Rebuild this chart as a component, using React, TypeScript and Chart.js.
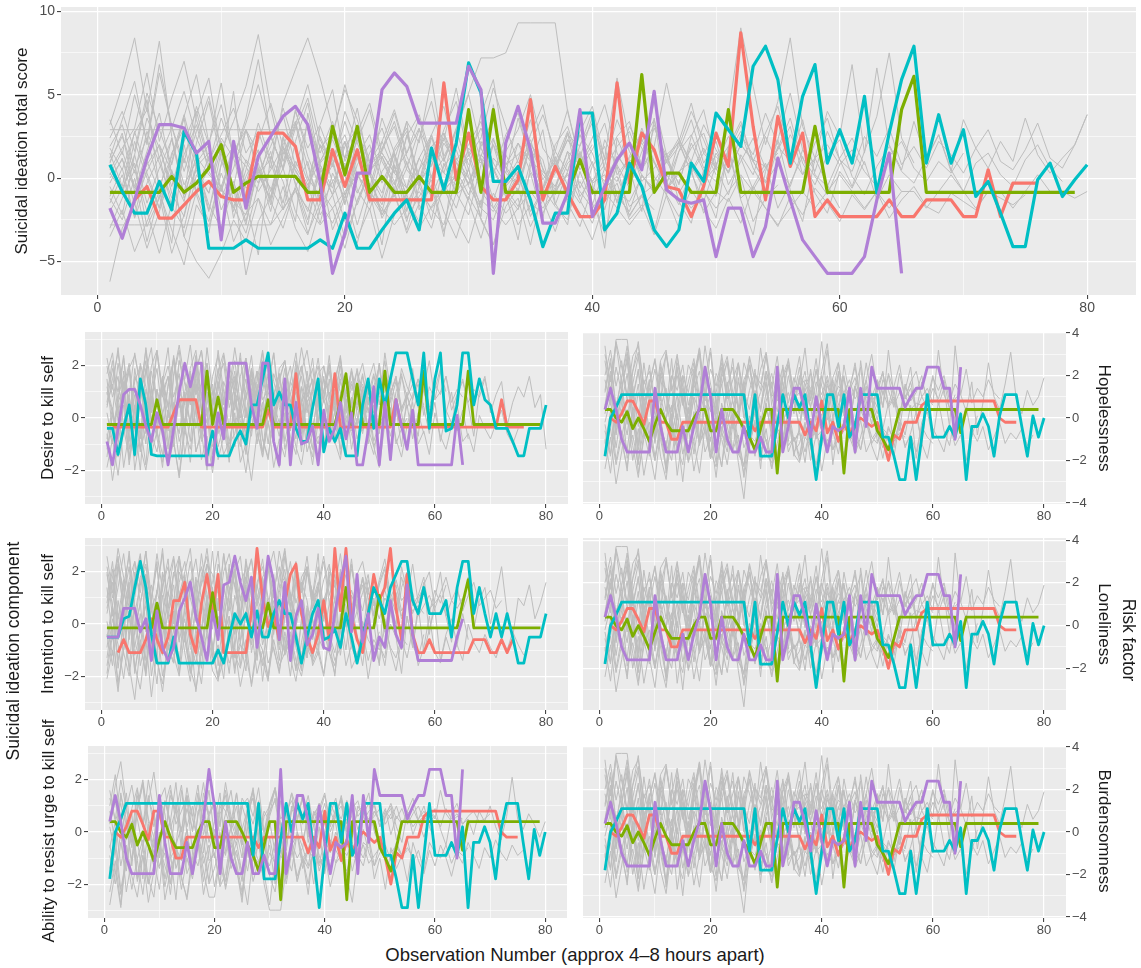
import React, { useEffect, useRef } from 'react';
import { Chart, registerables } from 'chart.js';
Chart.register(...registerables);

// ---------------- DATA (observation index = position + 1; "x" = missing) ----------------
const X_TICKS = [0, 10, 20, 30, 40, 50, 60, 70, 80];
const X_MAJOR = [0, 20, 40, 60, 80];

const TOTAL_Y_TICKS = [-5, -2.5, 0, 2.5, 5, 7.5, 10];
const TOTAL_Y_MAJOR = [-5, 0, 5, 10];
const COMP_Y_TICKS = [-3, -2, -1, 0, 1, 2, 3];
const COMP_Y_MAJOR = [-2, 0, 2];
const RISK_Y_TICKS = [-4, -3, -2, -1, 0, 1, 2, 3, 4];
const RISK_Y_MAJOR = [-4, -2, 0, 2, 4];

// Top panel: suicidal ideation total score
const TOTAL_RED =
  'x x -1.3 -0.5 -2.4 -2.4 -1.6 -0.8 -0.2 -1.1 ' +
  '-1.3 -1.3 2.7 2.7 2.7 1.9 -1.3 -1.3 1.7 -0.5 ' +
  '1.7 -1.3 -1.3 -1.3 -1.3 -1.3 -1.3 5.7 -0.1 2.7 ' +
  '-0.5 -1.3 -1.3 -0.1 4.7 -1.3 0.7 -0.9 -2.3 -2.3 ' +
  '-1.3 5.7 -0.3 2.7 1.7 -0.5 -0.7 -2.3 -0.5 2.7 ' +
  '0.7 8.7 3.1 -1.3 3.7 0.7 2.7 -2.3 -1.3 -2.3 ' +
  '-2.3 -2.3 -2.3 -1.3 -2.3 -2.3 -1.3 -1.3 -1.3 -2.3 ' +
  '-2.3 0.5 -2.3 -0.3 -0.3 -0.3';
const TOTAL_GREEN =
  '-0.85 -0.85 -0.85 -0.85 -0.85 0.1 -0.85 -0.3 0.6 2.0 ' +
  '-0.85 -0.3 0.1 0.1 0.1 0.1 -0.85 -0.85 3.1 0.2 ' +
  '3.1 -0.85 0.1 -0.85 -0.85 0.1 -0.85 -0.85 -0.85 4.1 ' +
  '-0.85 4.1 -0.85 -0.85 -0.85 -0.85 -0.85 -0.85 1.1 -0.85 ' +
  '-0.85 -0.85 -0.85 6.2 -0.85 0.3 0.3 -0.85 -0.85 -0.85 ' +
  '4.1 -0.85 -0.85 -0.85 -0.85 -0.85 -0.85 3.1 -0.85 -0.85 ' +
  '-0.85 -0.85 -0.85 -0.85 4.1 6.1 -0.85 -0.85 -0.85 -0.85 ' +
  '-0.85 -0.85 -0.85 -0.85 -0.85 -0.85 -0.85 -0.85 -0.85';
const TOTAL_CYAN =
  '0.8 -0.8 -2.1 -2.1 -0.2 -1.9 2.8 1.5 -4.2 -4.2 ' +
  '-4.2 -3.7 -4.2 -4.2 -4.2 -4.2 -4.2 -3.7 -4.2 -2.1 ' +
  '-4.2 -4.2 -3.1 -2.1 -1.3 -3.1 1.8 -0.7 2.1 6.9 ' +
  '5.1 -0.2 -0.2 0.7 -1.3 -4.1 -2.1 -2.1 3.9 3.9 ' +
  '-3.1 -2.1 0.9 -0.5 -3.1 -4.1 -3.1 0.9 -0.2 3.9 ' +
  '2.9 1.9 6.7 7.9 5.9 0.9 4.9 6.8 0.9 2.9 ' +
  '0.9 4.9 -0.9 2.7 5.9 7.9 0.9 3.8 0.9 2.9 ' +
  '-1.1 -0.2 -2.1 -4.1 -4.1 -0.1 0.9 -1.1 -0.1 0.8';
const TOTAL_PURPLE =
  '-1.8 -3.6 -1.3 1.2 3.2 3.2 3.0 1.5 2.2 -3.7 ' +
  '2.2 -1.8 1.3 2.5 3.7 4.3 3.2 -0.2 -5.7 -3.3 ' +
  '0.3 0.3 5.3 6.3 5.5 3.3 3.3 3.3 3.3 6.7 ' +
  '5.3 -5.7 2.1 4.3 1.7 -2.7 -2.7 -0.9 4.1 -2.3 ' +
  '-0.5 1.1 2.1 0.5 5.2 -0.7 -1.3 -1.5 -1.3 -4.7 ' +
  '-1.8 -1.8 -4.7 -2.9 1.2 -1.3 -3.7 -4.7 -5.7 -5.7 ' +
  '-5.7 -4.7 -1.3 1.5 -5.7';
const TOTAL_GREY = [
  '-2.8 -2.8 -2.8 -2.8 -2.8 -2.8 -2.8 -2.8 -2.8 -2.8 -2.8 -2.8 -2.8 -2.8 -1.8 -0.8 -1.8 -2.8 -1.8 -0.8 0.2 -0.8 -1.8 -2.8 -1.8 -0.8 -1.8 -0.8 0.2 1.2 -0.8 -1.8 -2.8 -1.8 -0.8 -1.8 -0.8 0.2 -0.8 -1.8 -0.8 -1.8 -2.8 -1.8 -0.8 0.2 -0.8 -1.8 -0.8 -1.8 -0.8 0.2 -0.8 -1.8 -2.8 -1.8 -0.8 -1.8 -0.8 0.2 -0.8 -1.8 -0.8 -1.8 -0.8 -0.8 -1.8 -0.8 0.2 -0.8 -1.8 -0.8 -0.8 -1.8 -0.8 0.2 -0.8 -0.8 -1.2 -0.8',
  '2.9 2.9 2.9 2.9 2.9 2.9 2.9 2.9 2.9 2.9 2.9 2.9 2.9 2.9 2.9 2.9 2.9 1.5 3.4 0.6 2.2 4.1 1.0 -0.4 2.5 3.8 1.2 0.3 2.9 5.0 1.8 0.2 2.6 3.9 1.1 -0.6 2.0 3.1 0.8 2.4 4.4 1.5 0.1 2.2 3.5 0.9 1.9 4.0 2.3 0.5 1.6 3.2 1.0 2.7 4.3 1.4 0.2 2.1 3.6 1.1 0.4 2.5 1.3 3.0 0.8 1.9 0.6 2.2 1.4 0.3 1.8 2.9 1.0 0.5 1.7 3.3 1.2 0.6 2.0 3.8',
  '3.2 5.5 8.4 4.0 8.2 2.5 -1.0 3.8 6.0 1.5 -2.0 0.5 3.3 1.0 -1.5 2.2 4.5 0.8 -0.6 1.9 3.0 0.2 -1.2 1.6 2.8 -0.3 1.0 2.4 0.5 -1.0 1.3 3.5 0.6 -0.8 2.0 1.1 -1.6 0.4 2.6 1.5 -0.5 0.9 3.1 1.8 -0.2 1.0 2.2 0.3 -1.4 0.8 2.5 1.2 -0.7 0.6 1.8 3.6 0.9 -0.4 1.4 2.3 0.1 -1.0 0.7 1.9 0.4 -0.3 1.2 2.6 0.5 -0.8 0.9 1.5 0.2 -0.5 1.1 2.0 0.6 -0.2',
  '-6.2 -3.0 -1.5 -4.2 -2.0 0.5 -3.5 -5.0 -6.0 -4.5 -2.5 -3.8 -1.2 -2.8 -0.5 -3.0 -4.4 -1.8 -0.2 -2.6 -3.9 -1.0 -2.2 -0.8 -3.3 -1.5 0.2 -2.0 -3.6 -1.1 -2.4 -4.0 -1.7 -0.6 -2.9 -1.3 -3.2 -0.9 -2.1 -3.7 -1.4 -0.3 -2.5 -1.6 -3.4 -1.0 -2.3 -0.7 -1.9 -3.0 -1.2 -2.7 -0.5 -1.8 -2.9 -1.1 -2.2 -0.6 -1.5 -2.6 -1.0 -1.9 -0.8 -2.4 -1.3 -0.5 -1.7 -2.1 -0.9 -1.4 -1.9 -0.8 -1.2 -1.6 -1.0',
  '0.5 1.8 3.0 6.3 2.2 4.8 7.0 3.5 1.0 2.6 4.2 1.5 2.8 0.6 4.5 6.5 8.4 6.0 3.0 1.2 2.5 0.4 1.6 3.4 0.8 -0.5 1.9 2.7 0.3 1.4 3.0 0.9 -0.4 2.1 1.0 -1.2 0.6 2.3 1.3 -0.2 0.8 3.5 1.6 0.2 -0.9 1.1 2.4 0.7 -0.6 1.5 0.3 2.0 1.0 -0.3 0.9 2.6 1.2 0.1 -1.0 0.8 1.7 0.4 -0.5 1.3 2.2 0.6 -0.2 1.0 0.3 1.5',
  '1.2 3.5 5.8 2.0 6.3 3.1 0.4 2.8 4.9 1.6 3.4 5.5 8.6 4.2 1.0 3.2 5.6 2.3 0.7 4.0 2.1 0.3 3.6 1.5 -0.6 2.4 4.6 1.1 2.9 0.5 3.8 5.9 1.4 0.0 2.6 4.4 0.9 -0.8 2.0 3.3 1.2 6.0 2.2 0.6 3.0 1.3 -0.4 2.5 4.1 0.8 1.9 3.4 1.0 -0.2 2.3 5.1 1.7 0.4 2.8 1.1 -0.5 1.6 3.7 7.5 2.4 0.9',
  '-1.5 0.2 -2.3 1.0 -0.8 2.4 -1.2 0.5 -2.0 1.6 -0.5 -2.8 0.9 -1.6 1.8 -0.3 -2.5 0.6 -1.0 2.2 -0.7 -1.9 0.4 1.5 -1.3 -2.6 0.1 1.2 -0.9 -2.2 0.8 2.0 -0.6 -1.7 0.3 -2.4 1.1 -0.4 -1.5 0.7 1.9 -1.1 -2.0 0.2 -0.8 1.4 -1.4 -2.7 0.5 -0.2 1.6 -1.2 -0.5 0.9 -1.8 -0.3 1.3 -0.9 -2.1 0.4 -0.6 1.0 -1.3 0.2 -0.8',
  '1.0 2.5 0.3 3.6 1.8 -0.5 2.2 4.0 1.1 -1.2 0.6 2.9 1.5 -0.8 2.0 3.4 0.7 -1.5 1.3 2.6 0.2 -0.9 1.8 3.1 0.5 -0.4 2.4 1.0 3.0 5.1 7.2 7.2 7.5 9.3 9.3 9.3 9.3 4.0 1.0 -1.0 2.3 0.8 -0.6 1.6 3.2 1.0 -0.3 2.1 0.4 -1.1 1.5 2.8 0.6 -0.7 1.9 1.0 3.5 0.2 -0.5 1.2 2.4 0.8',
  '-0.5 -2.2 1.4 4.7 -0.6 -3.9 2.0 -1.0 -3.3 0.8 5.2 -1.4 -4.6 1.3 -0.2 -2.6 3.9 0.5 -3.1 -1.2 2.6 -0.8 -4.0 1.1 3.4 -1.9 -0.4 -3.5 2.2 0.1 -2.3 4.4 -0.9 -3.7 0.7 2.9 -1.5 -2.8 1.6 -0.3 -4.2 2.4 0.6 -2.0 3.6 -1.1 -3.0 0.9 -0.6 -2.4 1.9 -1.3 -3.4 0.4 2.3 -0.7 -2.6 1.2 -0.4 -1.8',
  '0.8 -1.0 2.2 0.0 -1.8 1.5 3.0 0.6 -0.9 2.4 1.2 -1.4 0.3 1.9 3.8 0.7 -0.6 2.0 0.9 -1.6 1.3 2.6 0.1 -1.1 0.6 2.9 1.4 -0.4 0.2 3.4 1.1 -1.3 0.8 2.1 0.4 -0.8 1.6 4.1 0.9 -0.2 1.2 -1.5 0.5 2.3 1.0 -0.7 0.3 1.8 2.7 0.6 -1.0 1.4 0.2 2.5 0.8 -0.5 1.7 0.9',
  '-3.0 -1.2 0.5 -2.0 -4.5 -1.5 1.2 -0.8 -2.6 0.3 -1.7 -3.3 -0.4 1.6 -1.9 -0.6 -2.8 0.8 -1.0 -3.6 -1.4 0.4 -2.2 -0.9 1.0 -1.6 -3.0 -0.3 -1.8 0.6 -2.5 -4.0 -1.1 0.2 -2.0 -0.7 1.3 -1.5 -2.9 -0.5 -1.3 0.7 -2.3 -1.0 -3.2 -0.2 -1.6 0.5 -2.1 -0.8 -1.4 0.1 -2.6 -1.2 -0.4',
  '1.8 0.5 2.7 4.1 1.2 3.0 5.2 2.4 0.8 3.6 1.5 -0.3 2.2 4.5 1.9 0.6 3.3 1.0 2.5 5.6 2.8 0.9 1.7 3.9 1.3 -0.2 2.6 4.3 1.1 2.0 3.4 0.4 1.6 2.9 5.0 1.8 0.7 2.3 1.2 3.7 0.5 1.9 2.8 0.8 4.6 1.4 2.1 0.3 1.5 2.6',
  '-1.2 -2.5 0.0 -3.8 -1.0 -4.5 -2.2 0.8 -1.6 -3.0 -0.4 -5.8 -2.6 -1.1 0.6 -2.0 -3.4 -0.7 -1.8 -4.2 -1.3 0.3 -2.4 -1.0 -3.1 -0.5 -1.9 -2.8 0.1 -1.4 -3.6 -0.9 -2.1 -1.2 -4.0 -0.6 -1.7 -2.5 0.4 -1.5 -3.3 -0.8 -2.2 -1.1 -1.9',
  '0.2 1.6 -0.5 2.8 0.9 -1.2 1.4 3.2 0.4 -0.8 2.1 1.0 -0.3 2.5 0.6 4.1 1.3 -0.6 0.8 2.2 -0.1 1.5 3.0 0.7 -1.0 1.2 2.6 0.3 -0.4 1.8 0.9 2.4 -0.2 1.1 3.5 0.5 -0.7 1.6 0.8 2.0',
  '0.0 1.1 -0.6 0.8 2.0 0.4 -1.0 1.3 0.2 -0.5 1.6 0.7 -0.8 0.5 1.9 0.1 -0.4 1.0 2.3 0.6 -0.9 0.8 1.5 0.3 -0.6 1.2 0.0 2.1 0.9 -0.3 1.4 0.5 -1.1 0.7 1.8 0.2 -0.5 1.1 2.6 0.8 -0.2 1.3 0.4 3.0 1.0 -0.4 2.2 4.5 1.5 0.6 3.8 9.0 5.5 2.0 4.6 8.4 3.1 1.2 4.0 2.5 6.8 1.5 6.6 2.0 0.5 3.4 1.1 2.6 0.4 3.5 1.8 0.6 2.2 1.0 3.6 1.4 0.3 1.2 2.0 3.8',
  '1.5 -0.5 2.8 0.3 -1.8 1.0 3.6 -0.9 0.6 2.2 -2.4 0.1 1.7 -1.2 2.5 0.4 -0.7 3.1 1.1 -1.5 0.8 2.0 -0.3 1.4 -2.0 0.5 2.6 -0.8 1.2 0.0 -1.6 2.3 0.7 -0.4 1.9 -1.1 0.3 2.7 -0.6 1.0 -1.9 0.9 2.1 -0.2 0.6 1.5 -0.9 0.4 1.8 0.2',
  '-2.0 -0.6 0.9 -2.9 -1.2 0.4 -3.5 -0.8 1.3 -1.9 -0.2 -2.6 0.6 -1.4 -3.0 -0.5 1.0 -2.2 -1.0 0.2 -2.8 -0.3 -1.6 0.8 -2.4 -1.1 -0.1 -3.2 -0.9 0.5 -1.8 -2.5 -0.4 0.7 -1.5 -2.1 -0.7 0.3 -1.3 -2.7 -0.6 0.1 -1.7 -1.0 -0.4',
  '2.4 4.0 1.6 5.1 2.9 0.8 3.7 6.2 2.1 4.4 1.2 3.3 5.6 2.6 0.5 3.0 4.8 1.8 2.7 5.3 3.5 1.0 2.2 4.1 1.5 3.6 0.7 2.9 4.6 1.3 2.4 5.4 3.1 0.9 2.0 3.8 1.6 0.4 2.8 4.3 1.1 2.5 3.4 0.6 1.9 5.7 2.3 1.0 3.2 1.7 0.3 2.6 1.4 3.9 2.0',
  '-0.3 1.2 -1.6 0.4 2.0 -0.9 -2.3 0.7 1.5 -0.6 -1.8 1.1 0.2 -1.2 2.4 -0.4 -2.0 0.9 1.8 -1.0 0.3 -1.5 1.3 -0.2 -2.6 0.5 1.7 -0.7 0.1 -1.3 2.2 0.6 -0.9 -1.9 1.0 0.4 -0.5 1.6 -1.1 0.0',
  '0.9 2.7 -0.8 1.6 3.9 0.2 -1.4 2.1 4.6 1.0 -0.5 2.9 0.6 -2.0 1.4 3.3 0.0 -1.1 2.5 1.2 4.2 0.4 -0.9 1.8 3.0 -0.3 0.8 2.3 5.4 1.5 -0.6 2.0 0.3 3.6 1.1 -1.3 0.7 2.6 1.9 4.0 0.5 -0.2 1.3 2.8 0.1 -1.0 1.6 3.5 0.9 2.2 -0.4 1.0 2.4 0.6 1.7 3.1 0.2 1.2 2.0 0.8',
  '-3.5 -1.9 -4.4 -2.6 -0.8 -3.1 -5.2 -1.6 -2.9 -0.4 -3.8 -2.1 -1.2 -4.0 -2.4 -0.6 -3.3 -1.5 -2.7 -0.9 -3.6 -1.8 -4.8 -2.2 -1.0 -3.0 -1.7 -0.5 -2.5 -3.9 -1.3 -2.0 -0.7 -2.8 -1.6',
  '0.3 -0.8 1.4 -1.5 0.6 2.3 -0.4 1.0 -1.9 0.8 1.9 -0.6 0.2 -1.3 1.6 0.5 -0.9 2.0 -0.2 0.9 -1.6 0.4 1.3 -0.7 2.6 0.1 -1.1 0.7 1.7 -0.5 -1.8 1.2 0.3 -0.4 2.1 0.6 -1.0 0.9 1.5 -0.3 0.2 -1.4 1.1 0.5 1.8 -0.6 0.4 1.0 -0.2 0.7',
  '3.5 1.4 5.0 2.2 6.8 3.1 0.9 4.3 2.0 5.7 1.2 3.6 7.1 2.5 0.6 4.0 1.8 3.2 5.3 1.0 2.7 4.5 1.5 0.3 3.4 2.1 6.0 1.3 2.8 0.8',
  '-1.1 0.6 -2.4 -0.3 1.3 -1.7 -3.0 0.2 -0.9 1.8 -1.4 -2.2 0.5 -0.6 -1.9 1.0 -0.4 -2.7 0.3 -1.2 1.5 -0.8 -2.0 0.7 -1.5 -0.1 -2.5 0.9 -1.0 -0.3 1.2 -1.8 -0.5 0.4 -2.3 -0.7 0.8 -1.3 -0.2 -1.6 0.6 -0.9 -1.4 0.1 -0.6',
  '1.9 3.2 0.6 2.4 -0.5 1.3 3.8 0.9 2.0 -0.8 1.6 2.9 0.3 1.1 4.2 1.8 -0.2 2.5 0.7 3.4 1.2 -0.6 2.2 0.4 1.5 3.0 0.0 2.7 1.0 -0.4 1.9 3.6 0.8 1.4 2.3 -0.1 1.0 2.8 0.5 1.7 3.3 0.2 1.2 2.1 0.9 -0.3 1.6 2.6 0.6 1.3 0.4 2.0 1.1 0.7 1.5',
];

// Desire to kill self
const DESIRE_RED =
  'x -0.35 -0.35 -0.35 -0.35 -0.35 -0.35 -0.35 -0.35 -0.35 ' +
  '-0.35 -0.35 0.2 0.7 0.7 0.7 0.7 -0.35 -0.35 -0.35 ' +
  '-0.35 -0.35 -0.35 -0.35 -0.35 -0.35 -0.35 -0.35 -0.35 0.3 ' +
  '-0.35 -0.35 -0.35 -0.35 1.7 -0.35 -0.35 -0.35 -0.35 -0.35 ' +
  '-0.35 1.7 -0.35 -0.35 -0.35 -0.35 -0.35 -0.35 -0.35 -0.35 ' +
  '-0.35 -0.35 0.7 -0.35 -0.35 -0.35 -0.35 -0.35 -0.35 -0.35 ' +
  '-0.35 -0.35 -0.35 -0.35 -0.35 -0.35 -0.35 -0.35 -0.35 -0.35 ' +
  '-0.35 0.7 -0.35 -0.35 -0.35 -0.35';
const DESIRE_GREEN =
  '-0.25 -0.25 -0.25 -0.25 -0.25 -0.25 -0.25 -0.25 -0.25 0.7 ' +
  '-0.25 -0.25 -0.25 -0.25 -0.25 -0.25 -0.25 -0.25 1.8 -0.25 ' +
  '0.8 -0.25 -0.25 -0.25 -0.25 -0.25 -0.25 -0.25 -0.25 0.7 ' +
  '-0.25 -0.25 -0.25 -0.25 -0.25 -0.25 -0.25 -0.25 -0.25 -0.25 ' +
  '-0.25 -0.25 0.6 1.7 -0.25 1.3 -0.25 -0.25 -0.25 -0.25 ' +
  '1.8 -0.25 -0.25 -0.25 -0.25 -0.25 -0.25 1.8 -0.25 -0.25 ' +
  '-0.25 -0.25 -0.25 -0.25 -0.25 1.8 -0.25 -0.25 -0.25 -0.25 ' +
  '-0.25 -0.25 -0.25 -0.25 -0.25 -0.25 -0.25 -0.25 -0.25';
const DESIRE_CYAN =
  '-0.4 -0.4 -1.4 -0.4 0.5 -1.4 1.5 0.5 -1.4 -1.45 ' +
  '-1.45 -1.45 -1.45 -1.45 -1.45 -1.45 -1.45 -1.45 -1.45 -0.5 ' +
  '-1.45 -1.45 -1.45 -0.9 -0.5 -1.0 0.5 0.5 1.5 2.5 ' +
  '0.5 1.0 0.5 0.5 -0.4 -0.9 -0.9 0.4 1.5 -1.3 ' +
  '-0.4 -0.9 -0.4 -1.45 -1.45 -1.45 0.5 1.5 -0.4 1.5 ' +
  '0.5 1.5 2.5 2.5 2.5 1.5 0.5 2.5 -0.4 1.5 ' +
  '2.5 -0.5 -0.4 0.5 2.5 2.5 0.5 1.5 0.7 0.5 ' +
  '-0.4 -0.4 -0.4 -0.9 -1.45 -1.45 -0.4 -0.4 -0.4 0.5';
const DESIRE_PURPLE =
  '-0.9 -1.8 -0.4 0.9 1.1 1.1 0.5 -0.3 -0.9 0.2 ' +
  '-0.5 -1.8 -0.4 1.0 2.1 1.2 2.1 2.1 -1.8 -1.8 ' +
  '0.2 -0.8 2.1 2.1 2.1 2.1 0.5 -0.4 2.1 2.1 ' +
  '-0.9 -1.8 1.5 -1.8 0.6 -1.0 -0.9 -0.3 -1.8 0.3 ' +
  '-0.9 -0.4 0.6 -0.8 0.2 -1.8 -1.8 -0.5 1.2 -1.8 ' +
  '0.6 -1.6 0.7 -0.3 -1.2 0.3 -1.8 -1.8 -1.8 -1.8 ' +
  '-1.8 -1.8 -1.8 0.1 -1.8';
const DESIRE_GREY = [
  '1.2 0.3 -0.8 1.8 0.6 -1.5 0.9 2.2 -0.4 1.1 0.2 -1.2 1.6 2.6 0.5 -0.9 1.3 0.4 2.7 1.0 -0.6 0.8 1.9 -0.3 0.6 2.3 1.1 -1.0 0.4 1.7 0.2 -0.7 1.2 2.0 0.5 -1.3 0.9 1.5 -0.2 0.7 2.4 0.3 -0.8 1.0 1.8 0.1 -0.5 1.4 0.6 2.1 -0.4 0.9 1.6 0.2 -1.1 0.8 1.3 0.4 -0.6 1.1 1.9 0.3 -0.2 0.8 1.5 0.5 -0.7 1.0 1.6 0.2 0.9 1.4 -0.3 0.6 1.2 0.8 1.6 0.4 0.9 -1.2',
  '-0.6 -2.4 -1.0 0.5 -1.8 -0.2 -2.0 0.8 -1.4 -0.5 -1.9 0.3 -0.9 -2.2 -0.1 1.0 -1.3 -0.6 -2.0 0.4 -1.1 -0.3 -1.7 0.9 -0.8 -2.1 -0.4 0.6 -1.5 -0.2 -1.0 -1.9 0.2 -0.7 -1.4 0.7 -0.5 -1.8 -0.1 -1.2 0.5 -0.9 -1.6 0.1 -0.6 -1.3 0.8 -0.4 -1.1 -1.9 -0.2 0.4 -0.8 -1.5 -0.3 0.6 -1.0 -0.5 -1.4 0.2 -0.7 -1.2 -0.3 0.5 -0.9 -0.6 -1.3 0.1 -0.4 -0.8 -0.2 0.3 -0.6 -1.0 -0.4',
  '0.4 1.5 2.5 0.9 1.8 -0.3 2.1 1.2 0.2 2.6 1.0 -0.5 1.7 2.8 1.4 0.6 2.2 0.8 -0.2 1.6 2.4 0.5 1.1 2.7 1.3 0.0 1.9 1.0 2.5 0.7 -0.4 1.5 2.2 0.9 0.3 1.8 2.6 1.2 0.4 2.0 0.8 1.5 2.3 0.6 -0.1 1.4 2.1 0.9 1.7 0.5 2.5 1.1 0.2 1.6 0.8 1.9 0.4 1.2 2.2 0.7 1.0 1.6 0.3 0.9 1.4 0.6 1.1 0.8 1.5 0.5',
  '-1.5 0.2 -0.6 1.3 -1.2 0.5 -0.3 -1.8 0.8 -0.5 1.6 -1.0 0.1 -1.6 1.0 -0.2 2.0 -0.8 0.4 -1.4 0.9 -0.4 1.4 -1.1 0.3 -0.7 1.8 0.0 -1.3 0.6 -0.5 1.2 -0.9 0.2 2.2 -0.6 0.7 -1.2 0.4 -0.1 1.5 -0.8 0.3 -1.5 0.8 -0.3 1.1 -1.0 0.5 -0.6 1.7 -0.2 0.4 -1.1 0.9 0.1 -0.7 1.3 -0.4 0.6 -0.9 0.2 1.0 -0.5 0.3 -0.8',
  '2.0 0.8 1.6 -0.4 0.9 2.5 1.2 0.1 1.8 0.6 -0.7 1.3 2.2 0.4 1.0 -0.3 1.7 2.6 0.7 -0.1 1.4 0.5 2.0 1.1 -0.5 0.8 1.9 0.3 1.5 2.4 0.6 -0.2 1.2 0.9 1.8 0.2 -0.6 1.1 2.3 0.7 0.0 1.6 1.0 -0.4 0.5 1.9 0.8 1.3 0.2 2.1 0.6 -0.3 1.0 1.7 0.4 0.9 1.5 0.1 1.2 0.7 1.8 1.0',
  '-0.2 -1.0 0.6 -1.9 -0.5 0.9 -1.2 -0.4 1.2 -0.8 -1.7 0.3 -0.6 0.8 -1.4 -0.1 1.5 -0.9 -0.3 0.5 -1.6 -0.7 1.0 -0.2 -1.1 0.4 -0.5 1.3 -0.8 -1.5 0.2 -0.4 0.9 -1.0 -0.2 0.6 -1.3 -0.6 1.1 -0.3 -0.9 0.3 -1.2 0.7 -0.5 -0.1 1.2 -0.7 -1.4 0.1 -0.3 0.8 -1.0 -0.4 0.5 -0.8 0.2 -0.6',
  '0.9 2.2 0.1 1.4 -0.9 1.9 0.5 2.7 1.1 -0.2 1.6 0.4 2.4 0.8 -0.6 1.3 2.0 0.2 1.7 0.6 2.6 1.0 -0.4 1.5 0.3 2.1 0.9 1.8 -0.1 1.2 2.5 0.7 1.4 0.0 1.9 0.6 1.1 2.3 0.4 1.6 -0.3 1.0 2.0 0.5 1.3 0.8 1.7 0.2 1.2 0.9 2.2 0.6 1.4 0.3 1.0',
  '-0.8 0.4 -1.5 -0.2 0.9 -2.0 -0.6 0.3 -1.2 1.1 -0.4 -1.7 0.6 -0.9 -0.1 1.4 -1.3 -0.5 0.2 -1.9 -0.3 0.8 -1.0 -0.6 0.5 -1.4 0.1 1.0 -0.8 -1.6 0.3 -0.4 0.7 -1.1 -0.2 1.2 -0.7 -1.5 0.4 -0.3 0.9 -1.0 -0.5 0.6 -1.2 0.0 -0.6 0.8 -0.9 -0.2',
  '1.5 -0.5 0.7 2.3 0.1 1.2 -0.8 1.9 0.6 -0.2 1.4 2.7 0.3 -0.6 1.0 1.8 -0.4 0.8 2.1 0.4 1.3 -0.1 1.7 0.9 2.5 0.2 -0.7 1.1 1.6 0.5 -0.3 1.4 2.2 0.6 1.0 -0.5 1.8 0.3 1.2 0.7 2.0 0.1 0.9 1.5 0.4',
  '0.6 1.9 1.0 2.4 0.3 1.4 2.0 -0.2 1.1 2.5 0.8 1.6 0.1 2.2 1.3 0.5 1.8 2.6 0.9 -0.1 1.5 2.1 0.4 1.2 2.3 0.7 1.7 0.0 1.0 2.4 1.4 0.6 1.9 0.2 1.3 2.0 0.8 1.5 -0.3 1.1 1.8 0.5 2.2 0.9 1.4 0.3 1.6 0.7 1.2 2.0 0.4 1.0 1.5 0.2 0.8 1.3 0.6 1.1 0.3 0.9',
  '-1.2 0.1 -0.7 0.9 -1.6 -0.3 0.5 -1.0 1.2 -0.5 -1.4 0.3 -0.8 0.8 -0.2 -1.7 0.6 -0.6 1.0 -1.1 -0.4 0.4 -1.3 0.7 -0.1 -0.9 1.1 -0.5 -1.5 0.2 -0.7 0.9 -1.2 -0.3 0.5 -0.9 1.3 -0.4 -1.0 0.1 -0.6 0.8 -1.4 -0.2 0.6 -0.8 -0.1 0.4 -1.1 -0.5 0.3 -0.7 0.2 -0.4 0.0',
  '1.7 2.5 0.6 1.2 2.1 -0.4 0.9 1.8 2.7 0.4 1.4 0.0 2.3 1.0 0.5 1.9 2.6 0.8 1.5 -0.2 1.1 2.4 0.7 1.6 0.2 2.0 1.3 0.9 2.2 0.3 1.7 1.0 -0.1 1.4 2.5 0.6 1.2 1.9 0.4 1.0 2.1 0.7 1.5 0.2 1.8 0.9 1.3 0.5 1.6 1.1',
  '0.2 -0.9 0.8 1.6 -0.5 0.4 -1.3 1.1 0.0 -0.7 1.4 0.5 -1.1 0.9 -0.3 1.8 0.2 -0.8 0.7 1.3 -0.4 0.1 -1.5 1.0 0.4 -0.6 1.5 -0.2 0.6 -1.0 0.9 1.7 -0.1 0.3 -0.8 1.2 0.5 -0.4 0.8 -1.2 0.6 1.1 -0.3 0.2 0.7',
  '2.3 1.1 2.7 0.7 1.9 2.4 1.3 0.4 2.0 2.6 1.0 1.6 0.2 2.2 1.5 2.8 0.9 1.3 2.1 0.5 1.8 2.5 1.2 0.3 1.6 2.3 0.8 1.4 2.6 1.0 0.1 1.9 2.2 0.6 1.2 2.7 1.5 0.4 1.7 2.0 0.9 1.3 2.4 0.6 1.1 1.8 0.2 1.4 2.1 0.8 1.0 1.6 0.5 1.9 1.2 0.7 1.5 1.0 0.4 1.3 0.9 1.6 0.6 1.1 0.8',
  '-1.9 -0.8 -2.2 -0.4 -1.5 0.3 -1.1 -2.0 -0.6 -1.3 0.1 -1.8 -0.9 -2.3 -0.5 -1.2 0.4 -1.6 -0.7 -2.1 -0.2 -1.4 -0.9 0.2 -1.7 -1.0 -2.4 -0.6 -1.3 -0.1 -1.9 -0.8 -1.5 0.0 -1.1 -1.8 -0.4 -1.2 -0.7 -1.0',
  '0.5 1.3 -0.1 0.9 2.0 0.3 1.5 -0.6 0.8 1.9 0.1 1.2 2.3 0.6 -0.4 1.6 0.9 2.1 0.2 1.0 -0.3 1.4 0.7 1.8 0.0 1.1 2.4 0.4 -0.2 1.3 0.8 1.7 0.3 -0.5 1.2 2.0 0.6 1.0 -0.1 1.5 0.9 0.2 1.4 0.5 1.9 0.7 0.0 1.1 0.6 1.3 0.3 0.9 1.6 0.4 0.8 0.2 1.0 0.5',
  '1.0 0.2 2.1 0.7 -0.5 1.6 1.1 2.6 0.4 -0.2 1.3 2.0 0.8 1.7 -0.4 0.9 2.4 0.3 1.2 0.6 1.9 -0.1 1.0 2.2 0.5 1.5 0.0 1.8 0.7 1.1 2.5 0.4 -0.3 1.4 0.9 1.6 0.2 1.2 2.0 0.6 1.0 0.3 1.7 0.8 1.3 0.5 1.1 0.7',
];

// Intention to kill self
const INTENT_RED =
  'x x -1.1 -0.6 -1.1 -1.1 -1.1 -0.6 0.2 -0.6 ' +
  '-1.1 -0.5 0.9 0.9 1.6 -0.4 -1.1 0.8 1.9 0.5 ' +
  '1.9 -1.1 -1.1 -1.1 -1.1 -1.1 0.5 2.9 1.0 -0.1 ' +
  '0.4 -0.6 0.8 1.9 2.3 0.4 -0.5 -1.1 -0.4 0.9 ' +
  '-0.6 2.9 0.5 2.9 0.3 -0.6 -1.1 0.4 1.9 0.9 ' +
  '1.4 2.9 0.6 -0.6 1.9 -0.4 -1.1 -1.1 -0.6 -1.1 ' +
  '-1.1 -1.1 -1.1 -1.1 -1.1 -1.1 -0.6 -0.6 -0.6 -1.1 ' +
  '-1.1 -0.6 -1.1 -0.6';
const INTENT_GREEN =
  '-0.15 -0.15 -0.15 -0.15 -0.15 -0.15 -0.15 -0.15 -0.15 0.8 ' +
  '-0.15 -0.15 -0.15 -0.15 -0.15 -0.15 -0.15 -0.15 -0.15 1.2 ' +
  '-0.15 -0.15 -0.15 -0.15 -0.15 -0.15 -0.15 -0.15 -0.15 0.8 ' +
  '-0.15 -0.15 -0.15 -0.15 -0.15 -0.15 -0.15 -0.15 -0.15 -0.15 ' +
  '-0.15 -0.15 -0.15 1.4 -0.15 -0.15 -0.15 -0.15 -0.15 1.1 ' +
  '-0.15 -0.15 -0.15 -0.15 -0.15 -0.15 -0.15 -0.15 -0.15 -0.15 ' +
  '-0.15 -0.15 -0.15 -0.15 0.8 1.7 -0.15 -0.15 -0.15 -0.15 ' +
  '-0.15 -0.15 -0.15 -0.15 -0.15 -0.15 -0.15 -0.15 -0.15';
const INTENT_CYAN =
  '-0.5 -0.5 -0.5 0.2 0.3 1.4 2.4 1.4 -0.4 -1.5 ' +
  '-1.5 -1.5 -0.5 -1.5 -1.5 -1.5 -1.5 -1.5 -1.5 -1.5 ' +
  '-1.0 -1.5 -0.5 0.4 0.0 0.4 -0.5 0.5 -0.5 -0.5 ' +
  '0.4 0.9 0.4 0.4 -0.5 -1.5 -0.5 0.4 0.9 -0.6 ' +
  '-0.5 -0.2 -0.9 0.4 -0.5 -1.5 -0.5 0.4 1.4 0.9 ' +
  '0.4 1.4 1.9 2.4 2.4 0.9 0.4 1.4 0.4 0.4 ' +
  '0.4 0.9 -0.5 1.4 2.4 2.4 0.4 1.4 0.4 -0.5 ' +
  '0.4 -0.5 0.4 -0.5 -1.5 -1.5 -0.5 -0.5 -0.5 0.4';
const INTENT_PURPLE =
  '-0.5 -0.5 -0.5 0.6 0.6 0.6 -0.3 0.2 -1.4 0.5 ' +
  '-0.9 -1.4 -0.9 0.5 1.0 1.6 0.3 -0.5 -1.4 0.5 ' +
  '-0.6 1.5 1.6 2.6 1.6 0.9 1.8 -0.9 0.7 2.6 ' +
  '1.6 -0.6 1.6 -1.4 0.3 0.9 -0.8 -0.4 0.6 -0.9 ' +
  '-1.0 0.4 1.6 2.6 -0.3 1.9 -0.7 0.4 -1.4 -0.5 ' +
  '-0.9 0.9 -0.4 -0.9 1.5 -0.4 -1.4 -1.4 -1.4 -1.4 ' +
  '-1.4 -1.4 -1.4 -0.5 0.2';
const INTENT_GREY = [
  '1.4 -0.6 2.2 0.5 -1.8 1.0 2.6 -0.3 0.8 -1.5 1.9 0.2 -0.9 2.4 1.1 -0.4 1.6 -1.2 0.7 2.8 0.0 -1.0 1.3 2.1 -0.7 0.4 1.8 -1.4 0.9 2.5 0.3 -0.8 1.5 -0.2 2.0 0.6 -1.3 1.1 2.7 -0.5 0.8 1.7 -1.0 0.2 2.3 1.0 -0.6 1.4 0.1 -1.6 1.9 0.7 -0.3 2.2 1.2 -0.9 0.5 1.6 -0.4 1.0 2.0 0.3 -0.7 1.3 0.6 1.8 -0.2 0.9 1.4 0.0 1.1 2.2 0.4 -0.5 1.0 0.7 1.5 0.2 0.8 1.6',
  '-1.9 -0.4 -2.2 -1.0 0.3 -1.6 -2.5 -0.7 -1.3 0.1 -2.0 -0.9 -1.5 0.6 -0.5 -1.8 -1.1 -2.3 -0.2 -1.4 -0.8 -2.1 0.2 -1.2 -1.7 -0.6 -2.4 -1.0 0.0 -1.5 -0.9 -1.9 -0.3 -1.3 -2.2 -0.7 0.4 -1.6 -1.1 -2.0 -0.5 -1.4 -0.9 0.1 -1.7 -1.2 -0.4 -2.1 -0.8 -1.5 0.2 -1.0 -1.8 -0.6 -1.3 -0.2 -1.6 -0.9 0.3 -1.1 -1.5 -0.5 -1.2 -0.8 -1.4 0.0 -0.7 -1.1 -0.4 -0.9 -1.3 -0.6 -1.0 -0.3 -0.8 -1.2',
  '0.6 1.8 2.5 1.0 2.8 0.4 1.5 2.2 0.9 2.7 1.3 0.2 1.9 2.6 1.1 2.4 0.7 1.6 2.9 1.2 0.5 2.0 2.7 1.4 0.3 1.8 2.5 0.8 1.5 2.3 1.0 2.8 1.7 0.6 2.1 1.3 2.6 0.9 1.6 0.2 2.2 1.4 2.7 1.0 0.5 1.9 2.4 1.2 0.7 1.7 2.5 1.1 0.4 1.8 1.0 2.3 0.8 1.5 2.0 0.6 1.2 1.8 0.9 1.4 0.5 1.1 1.6 0.7 1.0 1.3 0.6 0.9',
  '-0.9 0.6 -1.7 0.2 1.3 -1.2 -0.3 0.9 -2.0 -0.6 1.1 -0.9 0.4 -1.5 0.8 -0.2 -2.6 -0.8 0.5 -1.3 1.0 -0.5 -1.9 0.3 -0.7 1.4 -1.1 0.1 -2.2 -0.4 0.7 -1.4 0.2 1.2 -0.9 -1.8 0.6 -0.3 -1.2 0.9 -0.6 -2.0 0.4 -1.0 0.8 -0.4 -1.6 0.1 1.0 -0.8 -1.3 0.5 -0.5 -1.9 0.3 -0.9 0.7 -1.1 -0.2 0.6 -1.4 -0.4 0.2 -0.8 0.4 -0.6',
  '2.2 1.0 2.6 0.3 1.7 2.4 0.8 1.9 -0.2 1.3 2.7 0.6 2.0 1.2 -0.5 1.5 2.5 0.9 1.8 0.1 2.3 1.4 0.5 2.0 2.6 0.7 -0.3 1.6 2.2 1.0 0.4 1.8 2.9 1.1 0.2 1.5 2.1 0.6 1.3 2.4 0.8 -0.1 1.7 1.0 2.5 0.5 1.2 1.9 0.3 1.6 2.2 0.9 0.0 1.4 2.0 0.7 1.1 1.8 0.4 1.3 0.8 1.5',
  '-0.4 -1.6 0.4 -1.1 -2.0 -0.3 0.8 -1.4 -0.7 -2.3 0.2 -0.9 -1.5 0.5 -0.6 -1.9 -0.2 -1.2 0.9 -0.8 -2.1 -0.4 0.3 -1.3 -0.7 -1.8 0.6 -0.5 -1.0 -2.0 -0.1 0.7 -1.2 -0.6 -1.7 0.1 -0.9 -1.4 0.4 -0.3 -1.1 -1.9 -0.2 0.5 -0.8 -1.5 -0.4 0.2 -1.2 -0.7 -1.6 0.0 -0.5 -1.0 0.3 -0.8 -1.3 -0.4',
  '1.0 2.4 0.2 1.7 -0.6 2.0 1.2 2.8 0.5 -0.3 1.5 2.2 0.8 2.6 1.1 -0.1 1.8 0.4 2.3 1.3 0.6 2.7 0.9 -0.4 1.6 2.1 0.3 1.4 2.5 0.7 1.9 0.1 1.2 2.4 0.8 1.6 -0.2 1.0 2.2 0.5 1.7 0.9 2.0 0.3 1.3 0.6 1.8 1.0 0.4 1.5 2.1 0.7 1.2 0.2 0.9',
  '-1.3 0.2 -0.8 -2.1 -0.4 0.7 -1.6 -0.6 -2.8 -1.0 0.4 -1.4 -0.2 -1.9 0.6 -0.9 -1.5 -0.3 0.9 -1.2 -2.0 -0.5 0.3 -1.7 -0.8 -1.1 0.5 -0.6 -1.4 -2.2 -0.1 0.8 -1.0 -0.4 -1.8 0.2 -0.7 -1.3 -0.2 0.6 -1.1 -1.6 -0.3 0.4 -0.9 -1.4 0.1 -0.6 -1.0 -0.3',
  '2.0 0.3 1.4 2.7 0.9 -0.4 1.8 2.3 0.6 1.2 2.9 0.5 -0.2 1.6 2.4 1.0 0.1 1.9 2.6 0.8 1.3 -0.1 2.1 1.5 0.4 2.5 1.1 0.7 1.8 2.2 0.2 1.4 2.8 0.9 1.6 0.3 2.0 1.2 0.6 1.7 2.3 0.8 1.1 1.9 0.5',
  '0.8 2.1 -0.3 1.5 2.6 0.4 -1.1 1.9 0.9 2.4 -0.6 1.2 0.2 2.0 1.4 -0.8 0.7 2.7 1.1 -0.2 1.6 0.5 2.3 -0.9 1.0 1.8 0.1 2.5 0.6 -0.4 1.3 2.2 0.8 -1.0 1.7 0.3 2.0 1.2 -0.5 0.9 1.6 0.4 2.1 -0.1 1.1 0.6 1.8 0.2 1.4 0.8 -0.3 1.0 1.5 0.5 0.9 1.2 0.3 0.7 1.1 0.5',
  '-1.6 -0.2 -2.4 -1.0 0.5 -1.8 -0.6 -2.0 0.2 -1.3 -2.6 -0.8 -1.5 0.4 -1.1 -2.2 -0.4 -1.7 0.6 -0.9 -2.1 -1.4 -0.3 -1.9 0.1 -1.2 -2.3 -0.7 -1.6 0.3 -1.0 -1.8 -0.5 -2.0 -0.2 -1.3 0.5 -1.5 -0.9 -1.9 -0.4 -1.1 0.0 -1.6 -0.8 -1.2 -0.3 -1.4 -0.6 -1.0 -0.2 -0.9 -1.3 -0.5 -0.8',
  '2.6 1.2 2.9 1.8 0.6 2.4 1.5 2.8 1.0 2.2 0.3 1.7 2.6 1.1 2.0 2.9 0.8 1.5 2.3 1.9 0.5 2.7 1.3 2.1 0.9 1.6 2.5 1.0 0.4 2.0 2.8 1.4 1.8 0.7 2.4 1.2 2.2 0.6 1.5 2.6 1.1 1.9 0.8 1.4 2.1 1.0 1.7 0.5 1.3 0.9',
  '0.1 -1.2 0.9 -0.5 1.6 -1.9 -0.2 0.7 -0.9 1.3 0.3 -1.5 0.5 -0.7 1.9 0.0 -1.1 0.8 -0.3 1.4 -1.6 0.4 -0.6 1.1 0.2 -1.3 0.6 -0.8 1.7 -0.1 0.9 -1.0 0.3 1.2 -0.4 -1.7 0.7 0.1 -0.9 1.0 -0.2 0.5 -1.2 0.4 -0.5',
  '1.9 0.7 2.3 1.3 0.2 1.7 2.7 0.9 1.5 -0.3 2.0 1.1 2.5 0.6 1.8 0.0 1.4 2.2 0.8 1.6 2.8 0.4 1.2 1.9 -0.1 2.4 1.0 1.5 0.5 2.1 1.3 0.7 2.6 1.1 0.3 1.8 2.2 0.9 1.4 0.1 2.0 1.6 0.6 1.2 2.3 0.8 1.5 0.2 1.9 1.0 1.3 0.5 1.7 0.9 1.2 0.4 1.0 1.4 0.6 0.8 1.1 0.3 0.9 0.6 1.0',
  '-2.1 -1.0 -2.6 -0.5 -1.6 -2.9 -0.8 -1.9 0.0 -1.4 -2.3 -0.7 -1.2 -2.0 -0.3 -1.7 -2.5 -1.1 -0.4 -1.8 -2.2 -0.6 -1.5 -0.9 -2.4 -1.3 -0.2 -1.9 -1.0 -2.1 -0.6 -1.6 -1.1 -0.3 -1.4 -2.0 -0.8 -1.2 -0.5 -1.0',
  '0.4 1.6 -0.6 1.0 2.2 -0.2 0.8 1.9 -1.0 0.5 1.4 2.5 0.0 1.1 -0.7 1.7 0.6 -0.3 2.0 0.9 1.3 -0.5 0.7 2.3 0.2 1.5 -0.8 1.0 1.8 0.3 -0.4 1.2 2.1 0.6 0.0 1.6 0.9 -0.6 1.4 0.4 1.9 0.1 1.1 0.7 -0.2 1.3 0.5 1.7 0.8 0.2 1.0 0.6 1.2 0.3 0.9 0.5 0.7 0.4',
  '-0.5 0.7 -1.4 -0.1 1.2 -0.9 0.4 -1.8 0.9 -0.3 -1.2 0.6 1.5 -0.6 0.2 -1.5 0.8 -0.2 1.1 -1.0 0.3 -0.7 1.3 0.0 -1.6 0.5 -0.4 1.0 -0.8 0.1 1.4 -0.5 -1.1 0.6 -0.1 0.9 -1.3 0.2 -0.6 0.7 -0.3 1.0 -0.9 0.4 -0.2 0.5 -0.7 0.1',
];

// Risk factors (hopelessness, loneliness, burdensomeness) and ability to resist
const RISK_RED =
  'x 0.0 -0.2 0.2 0.8 0.8 0.3 -0.3 0.8 0.8 ' +
  '-0.2 -0.2 -1.0 -1.0 -0.2 -0.2 -0.2 -0.2 -0.2 -0.2 ' +
  '-0.2 -0.2 -0.2 -0.2 -0.2 -0.2 -0.2 -0.6 -0.2 -0.2 ' +
  '-0.2 -0.2 -0.2 -0.2 -0.2 -0.2 -0.8 -0.2 -0.6 0.8 ' +
  '-0.7 -0.2 -1.1 -0.3 -0.8 -0.2 0.0 -0.2 -0.4 -0.2 ' +
  '-1.0 -2.0 -0.8 -1.0 -0.2 -0.2 -0.2 0.6 0.8 0.8 ' +
  '0.8 0.8 0.8 0.8 0.8 0.8 0.8 0.8 0.8 0.8 ' +
  '0.8 0.0 -0.2 -0.2 -0.2';
const RISK_GREEN =
  '0.4 0.4 0.0 -0.2 0.3 -0.5 0.0 -0.5 -1.1 -0.3 ' +
  '0.4 -0.2 -0.6 -0.6 -0.6 -0.6 0.0 0.4 0.4 -0.6 ' +
  '-0.6 0.4 0.4 0.4 0.0 -0.5 -0.9 -1.5 -0.5 0.4 ' +
  '0.4 -2.6 0.4 0.4 0.4 0.4 0.4 0.4 0.4 0.4 ' +
  '0.4 0.4 0.4 -2.6 0.4 0.4 0.4 0.4 0.4 -0.6 ' +
  '-1.0 -1.5 -0.6 0.4 0.4 0.4 0.4 0.4 0.4 0.4 ' +
  '0.4 0.4 0.4 0.4 -0.7 0.4 0.4 0.4 0.4 0.4 ' +
  '0.4 0.4 0.4 0.4 0.4 0.4 0.4 0.4 0.4';
const RISK_CYAN =
  '-1.8 0.0 0.5 1.1 1.1 1.1 1.1 1.1 1.1 1.1 ' +
  '1.1 1.1 1.1 1.1 1.1 1.1 1.1 1.1 1.1 1.1 ' +
  '1.1 1.1 1.1 1.1 1.1 1.1 -0.9 1.1 -1.8 -1.8 ' +
  '-1.8 -0.3 1.1 0.0 1.1 0.5 1.1 -0.9 -2.9 -0.9 ' +
  '1.1 1.1 -0.4 1.1 -0.9 -0.4 1.1 1.1 1.1 1.1 ' +
  '-0.9 -0.9 -1.8 -2.9 -2.9 -0.9 -2.9 -0.9 1.1 -0.9 ' +
  '-0.9 -0.9 -0.4 -0.9 0.2 -2.9 -0.4 -0.4 0.2 -0.4 ' +
  '-1.8 0.1 1.1 1.1 1.1 -0.4 -1.8 0.1 -0.9 0.0';
const RISK_PURPLE =
  '0.4 1.4 0.4 -1.0 -1.6 -1.6 -1.6 -1.6 -1.6 1.4 ' +
  '-0.4 -1.6 -1.6 -1.6 -0.4 -1.6 -0.4 0.5 2.4 1.0 ' +
  '-1.6 0.4 -1.0 -1.6 -1.6 -0.4 -1.6 -1.6 -0.9 -1.6 ' +
  '-1.6 2.4 -1.6 -0.4 1.4 1.4 0.4 -0.9 1.0 -0.4 ' +
  '-1.6 -0.4 -0.6 -0.4 1.4 -1.6 1.4 -0.4 2.4 1.4 ' +
  '1.4 1.4 1.4 1.4 0.5 1.0 1.4 1.4 2.4 2.4 ' +
  '2.4 1.4 1.4 -1.0 2.4';
const RISK_GREY = [
  '3.4 1.2 3.7 3.7 3.7 1.5 -0.4 2.6 0.8 -1.2 1.9 0.3 2.8 -0.6 1.4 0.2 2.3 -1.0 1.1 3.1 0.5 -0.8 1.7 0.0 2.5 1.0 -1.4 0.7 3.3 1.3 -0.2 2.0 0.4 -1.1 1.6 2.9 0.6 -0.7 1.2 3.6 0.9 -0.5 2.2 0.1 1.5 -0.9 2.7 0.8 -0.3 1.8 0.5 3.2 1.0 -0.6 1.3 2.4 0.2 -1.2 0.9 2.0 0.6 1.4 -0.4 3.4 1.1 0.3 1.7 -0.8 0.7 2.6 1.0 0.4 1.6 3.1 0.9 0.2 1.3 0.6 1.0 1.9',
  '-1.0 -2.6 -0.3 1.0 -1.9 -0.8 -2.2 0.4 -1.5 -2.9 -0.6 -1.2 -2.0 0.2 -1.7 -0.4 -2.5 -1.1 0.6 -1.6 -2.3 -0.7 -1.3 -0.2 -2.1 -3.8 -1.0 0.3 -1.8 -0.5 -2.4 -1.2 0.1 -1.6 -0.9 -2.0 -0.3 -1.4 -2.6 -0.8 0.4 -1.5 -1.0 -2.2 -0.4 -1.7 -0.9 0.2 -1.3 -2.0 -0.6 -1.1 -1.8 -0.2 -1.4 -0.7 0.3 -1.2 -1.9 -0.5 -1.0 -1.6 -0.3 -1.3 -0.8 -2.0 -0.6 -1.1 -0.4 -1.5 -0.9 -0.2 -1.2 -0.7 -1.0 -0.5 -1.3 -0.8',
  '2.0 3.2 1.5 2.7 0.8 2.2 3.6 1.1 2.5 0.4 1.9 3.0 1.3 2.4 0.6 1.7 2.8 1.0 3.4 1.6 0.2 2.1 2.9 1.2 0.5 2.6 1.8 0.9 2.3 3.1 1.4 0.3 2.0 2.7 1.1 1.6 3.3 0.8 2.2 1.5 0.4 1.9 2.6 1.0 1.4 2.4 0.7 1.8 3.0 1.2 2.1 0.6 1.5 2.5 0.9 1.7 2.2 1.0 0.5 1.9 1.3 2.0 0.8 1.6 1.1 2.3 0.7 1.4 1.0 1.8 1.2 0.9',
  '-0.2 0.9 -1.4 0.4 -0.8 1.5 -2.0 -0.5 0.8 -1.1 0.2 -2.6 -0.3 1.1 -0.9 0.5 -1.7 0.0 1.3 -0.6 -2.1 0.7 -0.4 -1.5 0.3 1.0 -1.2 -0.1 -2.4 0.6 -0.7 1.4 -1.0 0.2 -1.8 -0.4 0.9 -1.3 0.1 -0.6 1.2 -2.2 -0.2 0.5 -0.9 -1.6 0.4 -0.3 1.0 -1.1 -0.5 0.7 -1.4 0.0 -0.8 0.6 -1.9 -0.2 0.3 -1.0 0.8 -0.6 -1.3 0.2 -0.4 0.5 -0.9 0.1',
  '1.8 0.6 2.4 1.2 -0.2 1.6 2.9 0.8 1.4 -0.5 2.1 1.0 0.3 2.6 1.5 -0.1 1.9 0.7 2.3 1.1 0.4 3.0 1.3 -0.3 1.7 0.9 2.5 0.5 1.2 2.0 -0.4 1.6 0.8 2.8 1.0 0.2 1.8 1.4 0.6 2.2 3.5 1.1 0.4 1.9 0.7 1.5 2.4 0.3 1.0 1.7 0.5 2.1 1.3 0.0 1.6 0.8 1.2 2.0 0.6 1.4 0.9 1.8 0.4 1.1',
  '-1.6 -0.5 -2.2 -0.9 0.4 -1.3 -2.8 -0.7 -1.8 0.1 -1.0 -2.4 -0.3 -1.5 -0.8 -2.0 0.3 -1.2 -0.6 -1.9 -1.0 -2.3 -0.4 0.2 -1.4 -2.6 -0.8 -1.1 -0.2 -1.7 -2.1 -0.5 0.4 -1.3 -0.9 -1.8 -0.3 -1.0 -2.2 -0.6 -1.4 0.0 -1.1 -1.7 -0.4 -0.9 -1.5 -0.2 -1.2 -0.7 -1.9 -0.5 -1.0 -0.3 -1.3 -0.8 -1.6 -0.4 -0.9 -1.2',
  '0.5 2.0 -0.4 1.3 2.7 0.2 1.6 -0.8 1.0 2.3 0.6 -0.2 1.8 3.0 0.9 -0.5 1.4 2.2 0.3 1.1 -0.7 1.9 2.6 0.7 0.0 1.5 2.8 0.4 -0.3 1.2 2.1 0.8 1.7 -0.6 1.0 2.4 0.5 1.3 -0.1 2.0 0.9 1.6 0.2 2.5 1.1 -0.4 0.7 1.8 0.3 1.4 2.2 0.6 1.0 0.1 1.5 0.8',
  '-0.6 -1.8 0.3 -1.1 -2.3 -0.2 -1.5 0.6 -0.9 -2.0 -0.4 -1.3 0.2 -2.7 -0.8 -1.6 -0.1 -1.2 0.5 -1.9 -0.6 -1.0 -2.2 -0.3 0.4 -1.4 -0.7 -1.8 0.1 -1.1 -2.4 -0.5 -0.9 0.3 -1.6 -1.2 -0.2 -2.0 -0.8 0.2 -1.3 -0.6 -1.7 -0.1 -1.0 -0.4 -1.5 0.0 -0.9 -1.2 -0.5 -0.8',
  '1.2 2.6 0.4 1.9 3.1 0.9 2.2 0.1 1.6 2.8 1.0 -0.1 2.0 1.3 2.5 0.6 1.7 3.3 1.1 0.3 2.1 1.5 2.7 0.8 -0.2 1.8 2.4 1.0 0.5 2.2 1.4 2.9 0.7 1.2 0.2 2.0 1.6 0.9 2.3 0.4 1.5 1.1 2.6 0.6 1.3 1.9 0.8 1.4',
  '2.7 0.9 3.5 1.6 -0.3 2.2 3.1 0.5 1.8 -1.0 2.6 1.2 0.0 2.9 1.5 -0.6 2.0 3.3 0.8 1.4 -0.2 2.4 1.0 2.8 0.3 1.7 -0.8 2.1 1.3 3.0 0.6 -0.4 1.9 2.5 0.9 1.2 -0.1 2.3 0.7 1.6 3.2 0.4 1.1 2.0 -0.5 1.5 0.8 2.6 1.0 0.2 1.8 1.3 0.5 2.1 0.9 1.4 0.3 1.7 1.0 0.6',
  '-2.4 -0.9 -3.1 -1.6 0.2 -2.0 -0.5 -2.7 -1.2 0.4 -1.8 -2.9 -0.7 -1.4 -2.2 0.0 -1.1 -2.6 -0.4 -1.9 -1.0 -2.3 0.3 -1.5 -0.8 -2.8 -1.3 -0.2 -2.0 -1.6 -0.6 -2.4 -1.1 0.1 -1.7 -2.1 -0.9 -1.3 -0.3 -2.5 -1.0 -1.5 -0.5 -1.9 -0.8 -1.2 -0.1 -1.6 -1.0 -0.6 -1.4 -0.4 -1.1 -0.7 -0.9',
  '0.6 2.2 -0.7 1.4 2.9 0.1 -1.3 1.8 0.9 -0.4 2.4 1.1 -0.9 0.5 2.0 -0.2 1.6 3.0 0.3 -1.1 1.2 2.6 0.7 -0.5 1.9 0.0 1.3 2.3 -0.8 0.8 1.7 -0.3 2.5 0.4 1.0 -0.6 1.5 2.1 0.2 0.9 -0.1 1.8 0.6 1.2 -0.4 1.4 0.8 0.3 1.1 0.5',
  '-0.3 -1.7 0.8 -0.9 -2.5 0.3 -1.2 1.0 -0.6 -2.0 -0.1 -1.5 0.6 -0.8 -3.0 -0.4 0.9 -1.3 -0.2 -1.9 0.4 -0.7 -1.6 0.2 -1.0 -2.3 0.1 -0.5 -1.4 0.7 -0.9 -1.8 -0.2 0.5 -1.1 -0.6 -2.1 0.0 -0.8 -1.3 0.3 -0.4 -1.0 -0.6 -0.2',
  '1.3 2.8 0.5 1.9 3.4 1.0 2.3 0.2 1.6 2.7 0.8 3.1 1.4 -0.1 2.0 1.2 2.6 0.6 1.8 3.3 0.9 -0.3 1.5 2.4 0.4 1.1 2.9 1.7 0.3 2.2 1.0 -0.2 1.4 2.5 0.7 1.9 0.1 1.2 2.8 0.5 1.6 1.0 2.1 0.3 1.3 2.6 0.8 1.5 0.0 1.8 1.1 2.0 0.6 1.2 0.9 1.7 0.4 1.0 1.4 0.7 3.2 1.1 0.5 0.9 1.2',
  '-1.2 0.3 -2.0 -0.6 -1.5 0.5 -2.6 -1.0 -0.2 -1.8 -0.7 -2.3 0.1 -1.3 -0.5 -2.1 -1.1 0.2 -1.6 -0.9 -2.8 -0.4 -1.2 0.0 -1.7 -2.2 -0.8 -0.3 -1.5 -1.0 -1.9 -0.6 -1.3 -0.1 -1.1 -0.7 -1.6 -0.4 -0.9 -0.6',
  '0.2 1.5 -0.8 0.7 2.1 -0.4 1.2 0.0 1.8 -1.1 0.5 1.4 -0.3 2.3 0.8 -0.7 1.0 0.3 1.9 -0.5 0.6 1.6 -0.2 0.9 2.6 0.1 -0.9 1.3 0.4 1.7 -0.6 1.1 0.2 2.0 0.7 -0.3 1.4 0.5 -1.0 0.9 1.8 0.0 1.2 0.6 -0.4 1.5 0.3 1.0 0.8 -0.1 1.3 0.5 0.9 0.2 1.1 0.4 0.7 0.6',
  '3.0 1.7 3.6 2.4 1.1 2.9 3.4 1.6 2.2 0.8 2.7 3.2 1.3 2.0 0.6 2.5 1.9 3.1 1.0 2.3 1.5 2.8 0.9 1.8 2.6 1.2 0.4 2.1 1.6 2.9 1.0 1.4 2.4 0.7 1.9 1.3 2.2 0.5 1.7 1.1 2.0 0.8 1.5 1.2 1.8 0.9 1.4 1.0',
];
const ABILITY_GREY = [
  '0.5 1.8 2.7 1.0 -0.6 1.4 0.2 2.0 0.8 -0.9 1.2 0.4 1.9 -0.3 0.9 0.1 1.5 -0.8 0.6 1.1 -0.2 0.7 1.6 0.0 -1.0 0.8 1.3 0.3 -0.5 1.0 1.7 0.2 -0.7 0.9 0.4 1.4 -0.4 0.6 1.1 -0.1 0.8 0.3 -0.9 1.2 0.5 -0.3 0.9 1.5 0.1 -0.6 0.7 1.0 0.2 -0.4 0.8 1.3 0.4 -0.2 0.6 0.9 0.1 -0.5 0.7 1.1 0.3 0.5 -0.1 0.8 0.4 1.0 0.2 -0.3 0.6 2.1 0.5 0.1 0.7 0.3 -0.2 0.4',
  '-2.8 -1.5 -2.9 -0.8 -2.2 -1.0 -0.3 -1.8 -2.5 -0.6 -1.3 -2.0 -0.4 -1.7 -2.6 -1.1 -0.2 -1.5 -2.5 -2.5 -0.9 -1.9 -0.5 -1.2 -2.3 -0.7 -1.6 -0.3 -2.0 -3.0 -3.0 -3.0 -1.4 -0.6 -1.9 -1.0 -2.4 -0.4 -1.5 -0.8 -2.1 -1.2 -0.5 -1.7 -2.7 -0.9 -1.3 -0.3 -1.8 -1.0 -2.2 -0.6 -1.4 -0.9 -1.9 -0.4 -1.1 -1.6 -0.7 -1.3 -0.5 -1.0 -1.7 -0.8 -1.2 -0.4 -0.9 -1.4 -0.6 -1.0 -0.3 -0.8 -1.1 -0.5 -0.9 -0.7',
  '1.6 0.4 1.1 -0.3 0.9 1.7 0.2 1.3 0.6 -0.5 1.0 1.8 0.3 0.8 1.4 0.0 1.2 0.5 1.6 -0.2 0.7 1.1 0.4 1.5 0.1 0.9 1.3 -0.4 0.6 1.0 1.6 0.2 0.8 1.2 0.5 1.4 -0.1 0.7 1.0 0.3 1.1 0.6 1.3 0.0 0.9 1.2 0.4 0.8 1.0 0.2 0.6 1.1 0.5 0.9 0.3 0.7 1.0 0.4 0.8 0.6 0.2 0.9 0.5 0.7 0.3 0.6 0.8 0.4 0.5 0.7',
  '-0.9 -2.0 -0.4 -1.5 0.2 -1.1 -2.4 -0.6 -1.3 0.0 -1.8 -0.8 -2.6 -0.3 -1.0 -1.6 0.1 -1.2 -0.5 -2.1 -0.9 -0.2 -1.4 -0.7 -1.9 0.2 -1.0 -0.5 -1.6 -2.8 -1.1 -0.3 -0.8 -1.5 0.0 -1.2 -0.6 -2.0 -0.4 -1.0 -1.4 -0.2 -0.9 -1.7 -0.5 -1.1 0.1 -0.8 -1.3 -0.4 -1.0 -1.8 -0.6 -0.9 -0.3 -1.2 -0.7 -1.5 -0.4 -0.8 -1.0 -0.5 -1.2 -0.7 -0.9 -0.6',
  '0.2 -0.8 1.4 0.5 -1.3 0.9 1.8 -0.2 0.6 -1.0 1.2 0.3 -0.6 1.6 0.0 -1.4 0.8 1.1 -0.4 0.4 1.5 -0.9 0.2 1.0 -0.5 0.7 1.7 -0.1 -1.2 0.6 1.3 0.1 -0.7 0.9 1.4 -0.3 0.5 -1.1 1.0 0.3 -0.6 0.8 1.2 -0.2 0.4 -0.9 0.7 1.1 0.0 -0.5 0.6 0.9 -0.3 0.3 0.8 -0.1 0.5 1.0 0.2 -0.4',
  '-1.4 -0.3 -2.2 -1.0 0.4 -1.7 -0.6 -2.0 -0.2 -1.3 -0.8 -2.4 -0.5 0.2 -1.6 -1.0 -0.3 -1.9 -0.7 0.1 -1.2 -2.1 -0.4 -0.9 -1.5 0.3 -0.6 -1.1 -1.8 -0.2 -1.3 -0.5 -2.0 -0.8 -0.1 -1.4 -0.7 -1.0 0.2 -1.6 -0.4 -1.2 -0.9 -0.3 -1.5 -0.6 -1.0 -0.2 -1.3 -0.8 -0.5 -1.1 -0.4 -0.9 -0.6 -1.0',
  '1.0 2.2 0.3 1.5 -0.4 0.8 1.9 0.5 -0.2 1.2 1.7 0.1 0.9 -0.6 1.4 0.6 1.8 -0.1 0.7 1.1 0.2 1.6 0.4 -0.3 1.0 1.3 0.6 1.7 0.0 0.8 1.2 -0.2 0.5 1.5 0.9 0.3 1.1 -0.4 0.7 1.4 0.2 0.9 0.5 1.2 0.1 0.8 1.0 0.4 0.6 0.9 0.3 0.7',
  '-0.5 -1.6 0.0 -2.3 -1.0 -0.3 -1.8 0.3 -0.8 -1.4 -0.2 -2.0 -0.6 -1.1 0.1 -1.5 -0.4 -0.9 -1.9 -0.1 -1.2 -0.7 0.2 -1.4 -2.5 -0.5 -1.0 -0.2 -1.6 -0.8 -1.2 0.0 -1.8 -0.4 -1.0 -0.6 -1.3 -0.2 -0.9 -1.5 -0.3 -0.7 -1.1 -0.5 -0.8 -1.2 -0.4 -0.6',
  '0.8 -0.4 1.5 0.2 -1.1 1.0 2.0 0.4 -0.6 1.3 0.7 -0.9 1.1 0.0 1.7 0.5 -0.3 1.2 0.6 -1.0 0.9 1.4 0.1 -0.5 1.0 0.3 1.6 -0.2 0.8 0.4 -0.8 1.2 0.6 1.5 0.0 -0.6 0.9 0.3 1.1 -0.4 0.7 1.3 0.2 0.5 -0.2 1.0 0.6 0.1 0.8 0.4 0.9 -0.1 0.6 0.3 0.7 0.2 0.5 0.8 0.4 0.6',
  '-1.7 -0.7 -2.4 -1.2 0.0 -1.9 -0.9 -2.7 -1.5 -0.3 -2.1 -1.0 -0.6 -1.8 -2.5 -0.8 -1.3 -0.2 -2.0 -1.4 -0.5 -2.2 -1.1 -0.4 -1.6 -2.8 -0.9 -1.2 -0.1 -1.7 -2.3 -0.7 -1.4 -0.3 -1.9 -1.0 -2.0 -0.6 -1.3 -0.8 -1.6 -0.4 -1.1 -1.5 -0.7 -1.0 -0.5 -1.2 -0.9 -0.6 -1.1 -0.8 -0.5 -0.9 -0.7',
  '0.3 1.2 -0.2 0.9 1.8 0.5 -0.6 1.4 0.2 1.0 -0.4 1.6 0.7 0.0 1.3 -0.8 0.6 1.9 0.4 -0.3 1.1 0.8 0.1 1.5 -0.5 0.9 0.3 1.2 -0.1 0.7 1.7 0.2 -0.6 1.0 0.5 1.3 -0.2 0.8 0.4 1.1 0.0 0.6 1.4 0.3 0.9 0.1 0.7 0.5 0.8 0.4',
  '-0.6 0.4 -1.3 -0.2 0.7 -1.8 -0.5 0.2 -1.0 -2.2 -0.3 0.5 -1.4 -0.7 0.1 -1.6 -0.4 0.6 -1.1 -0.8 -2.0 -0.1 -1.2 0.3 -0.6 -1.5 -0.2 0.4 -0.9 -1.3 -0.4 0.2 -1.7 -0.5 -0.1 -1.0 -0.7 0.3 -1.2 -0.3 -0.8 0.0 -0.6 -0.9 -0.4',
  '1.3 0.5 2.0 0.9 -0.2 1.6 0.4 1.1 2.3 0.6 -0.3 1.4 0.8 1.8 0.2 1.0 -0.5 1.5 0.7 1.2 0.3 1.9 0.6 -0.1 1.3 0.9 1.6 0.4 0.0 1.1 1.7 0.5 0.8 -0.4 1.2 0.6 1.4 0.2 0.9 1.5 0.3 0.7 1.0 0.1 1.3 0.6 0.9 0.4 1.1 0.2 0.8 0.5 1.0 0.3 0.7 0.9 0.4 0.6 0.8 0.5 1.6 0.7 0.4 0.6 0.5',
  '-2.3 -1.1 -2.8 -0.5 -1.7 -2.5 -0.9 -2.0 -1.3 -0.3 -2.6 -1.5 -0.7 -2.2 -1.0 -1.8 -0.4 -2.4 -1.2 -0.8 -2.1 -1.6 -0.2 -1.4 -2.7 -0.6 -1.9 -1.1 -1.5 -0.5 -2.0 -0.9 -1.3 -0.6 -1.7 -1.0 -1.4 -0.8 -1.2 -0.9',
];

// ---------------- STYLE ----------------
const FONT = '"Liberation Sans", Arial, Helvetica, sans-serif';
const C_RED = '#F8766D';
const C_GREEN = '#7CAE00';
const C_CYAN = '#00BFC4';
const C_PURPLE = '#B07FD6';
const C_GREY = '#BEBEBE';
const TICK_COL = '#4D4D4D';
const X_MIN = -2.95;
const X_MAX = 83.95;

const parseSeries = (s: string): (number | null)[] =>
  s.trim().split(/\s+/).map((t) => (t === 'x' ? null : Number(t)));
const toXY = (vals: (number | null)[]) => vals.map((v, i) => ({ x: i + 1, y: v }));
const fmt = (v: number) => (v < 0 ? '\u2212' + String(Math.abs(v)) : String(v));

const bgPlugin = {
  id: 'panelBg',
  beforeDraw(chart: any) {
    const { ctx, chartArea: a } = chart;
    ctx.save();
    ctx.fillStyle = '#EBEBEB';
    ctx.fillRect(a.left, a.top, a.right - a.left, a.bottom - a.top);
    ctx.restore();
  },
};

type PanelProps = {
  plotLeft: number;
  plotTop: number;
  plotW: number;
  plotH: number;
  yMin: number;
  yMax: number;
  yTicks: number[];
  yMajor: number[];
  yPos: 'left' | 'right';
  axisW: number;
  xAxisH: number;
  tickFont: number;
  lineW: number;
  grey: string[];
  red: string;
  green: string;
  cyan: string;
  purple: string;
};

const PAD = 12;

function Panel(p: PanelProps) {
  const ref = useRef<HTMLCanvasElement | null>(null);
  const cw = PAD + p.axisW + p.plotW + PAD;
  const ch = PAD + p.plotH + p.xAxisH;
  const cl = p.yPos === 'left' ? p.plotLeft - p.axisW - PAD : p.plotLeft - PAD;
  const ct = p.plotTop - PAD;

  useEffect(() => {
    if (!ref.current) return;
    const greyDs = p.grey.map((g) => ({
      data: toXY(parseSeries(g)),
      borderColor: C_GREY,
      borderWidth: 1,
      pointRadius: 0,
      order: 10,
    }));
    const colored = [
      { s: p.red, c: C_RED, o: 4 },
      { s: p.green, c: C_GREEN, o: 3 },
      { s: p.cyan, c: C_CYAN, o: 2 },
      { s: p.purple, c: C_PURPLE, o: 1 },
    ].map((d) => ({
      data: toXY(parseSeries(d.s)),
      borderColor: d.c,
      borderWidth: p.lineW,
      pointRadius: 0,
      order: d.o,
      borderJoinStyle: 'round' as const,
    }));
    const xMajor = new Set(X_MAJOR);
    const yMajor = new Set(p.yMajor);
    const yTicks = p.yTicks.filter((v) => v >= p.yMin && v <= p.yMax);
    const tickFont = { family: FONT, size: p.tickFont };
    const chart = new Chart(ref.current, {
      type: 'line',
      data: { datasets: [...greyDs, ...colored] as any },
      options: {
        responsive: false,
        animation: false,
        devicePixelRatio: 1,
        events: [],
        layout: { padding: { left: PAD, right: PAD, top: PAD, bottom: 0 } },
        plugins: { legend: { display: false }, tooltip: { enabled: false }, title: { display: false } },
        elements: { point: { radius: 0 }, line: { tension: 0 } },
        scales: {
          x: {
            type: 'linear',
            min: X_MIN,
            max: X_MAX,
            afterBuildTicks: (s: any) => {
              s.ticks = X_TICKS.map((v) => ({ value: v }));
            },
            afterFit: (s: any) => {
              s.height = p.xAxisH;
            },
            ticks: {
              autoSkip: false,
              maxRotation: 0,
              padding: 1,
              color: TICK_COL,
              font: tickFont,
              callback: (v: any) => (xMajor.has(Number(v)) ? String(v) : ''),
            },
            grid: {
              color: '#FFFFFF',
              lineWidth: (ctx: any) => (ctx.tick && xMajor.has(ctx.tick.value) ? 1.2 : 0.6),
              drawTicks: true,
              tickLength: 4,
              tickWidth: 1,
              tickColor: (ctx: any) => (ctx.tick && xMajor.has(ctx.tick.value) ? '#333333' : 'rgba(0,0,0,0)'),
            },
            border: { display: false },
          },
          y: {
            type: 'linear',
            position: p.yPos,
            min: p.yMin,
            max: p.yMax,
            afterBuildTicks: (s: any) => {
              s.ticks = yTicks.map((v) => ({ value: v }));
            },
            afterFit: (s: any) => {
              s.width = p.axisW;
            },
            ticks: {
              autoSkip: false,
              padding: 2,
              color: TICK_COL,
              font: tickFont,
              callback: (v: any) => (yMajor.has(Number(v)) ? fmt(Number(v)) : ''),
            },
            grid: {
              color: '#FFFFFF',
              lineWidth: (ctx: any) => (ctx.tick && yMajor.has(ctx.tick.value) ? 1.2 : 0.6),
              drawTicks: true,
              tickLength: 4,
              tickWidth: 1,
              tickColor: (ctx: any) => (ctx.tick && yMajor.has(ctx.tick.value) ? '#333333' : 'rgba(0,0,0,0)'),
            },
            border: { display: false },
          },
        },
      } as any,
      plugins: [bgPlugin],
    });
    return () => chart.destroy();
  }, []);

  return (
    <canvas
      ref={ref}
      width={cw}
      height={ch}
      style={{ position: 'absolute', left: cl, top: ct, width: cw, height: ch }}
    />
  );
}

// Text label centred on (x, y); fixed integer box so rotated text stays crisp.
function Label(props: { text: string; x: number; y: number; rot: number; size: number }) {
  const BW = 420;
  const BH = 22;
  return (
    <div
      style={{
        position: 'absolute',
        left: props.x - BW / 2,
        top: props.y - BH / 2,
        width: BW,
        height: BH,
        lineHeight: `${BH}px`,
        textAlign: 'center',
        transform: `rotate(${props.rot}deg)`,
        transformOrigin: '50% 50%',
        fontFamily: FONT,
        fontSize: props.size,
        color: '#1A1A1A',
        whiteSpace: 'nowrap',
      }}
    >
      {props.text}
    </div>
  );
}

export default function App() {
  const leftW = 483;
  const rightL = 583;
  const rowTops = [332, 538, 746];
  const H = 172;
  const small = { plotW: leftW, plotH: H, axisW: 30, xAxisH: 22, tickFont: 13, lineW: 2.8 };
  return (
    <div
      style={{
        position: 'absolute',
        left: 0,
        top: 0,
        width: 1141,
        height: 968,
        background: '#FFFFFF',
        overflow: 'hidden',
      }}
    >
      <Panel
        plotLeft={61}
        plotTop={7}
        plotW={1075}
        plotH={288}
        yMin={-7.0}
        yMax={10.25}
        yTicks={TOTAL_Y_TICKS}
        yMajor={TOTAL_Y_MAJOR}
        yPos="left"
        axisW={40}
        xAxisH={24}
        tickFont={14}
        lineW={3.2}
        grey={TOTAL_GREY}
        red={TOTAL_RED}
        green={TOTAL_GREEN}
        cyan={TOTAL_CYAN}
        purple={TOTAL_PURPLE}
      />
      <Panel
        {...small}
        plotLeft={85}
        plotTop={rowTops[0]}
        yMin={-3.3}
        yMax={3.3}
        yTicks={COMP_Y_TICKS}
        yMajor={COMP_Y_MAJOR}
        yPos="left"
        grey={DESIRE_GREY}
        red={DESIRE_RED}
        green={DESIRE_GREEN}
        cyan={DESIRE_CYAN}
        purple={DESIRE_PURPLE}
      />
      <Panel
        {...small}
        plotLeft={85}
        plotTop={rowTops[1]}
        yMin={-3.3}
        yMax={3.3}
        yTicks={COMP_Y_TICKS}
        yMajor={COMP_Y_MAJOR}
        yPos="left"
        grey={INTENT_GREY}
        red={INTENT_RED}
        green={INTENT_GREEN}
        cyan={INTENT_CYAN}
        purple={INTENT_PURPLE}
      />
      <Panel
        {...small}
        plotLeft={88}
        plotW={479}
        plotTop={rowTops[2]}
        yMin={-3.3}
        yMax={3.3}
        yTicks={COMP_Y_TICKS}
        yMajor={COMP_Y_MAJOR}
        yPos="left"
        grey={ABILITY_GREY}
        red={RISK_RED}
        green={RISK_GREEN}
        cyan={RISK_CYAN}
        purple={RISK_PURPLE}
      />
      <Panel
        {...small}
        plotLeft={rightL}
        plotTop={rowTops[0]}
        yMin={-4.05}
        yMax={4.05}
        yTicks={RISK_Y_TICKS}
        yMajor={RISK_Y_MAJOR}
        yPos="right"
        grey={RISK_GREY}
        red={RISK_RED}
        green={RISK_GREEN}
        cyan={RISK_CYAN}
        purple={RISK_PURPLE}
      />
      <Panel
        {...small}
        plotLeft={rightL}
        plotTop={rowTops[1]}
        yMin={-3.95}
        yMax={4.1}
        yTicks={RISK_Y_TICKS}
        yMajor={RISK_Y_MAJOR}
        yPos="right"
        grey={RISK_GREY}
        red={RISK_RED}
        green={RISK_GREEN}
        cyan={RISK_CYAN}
        purple={RISK_PURPLE}
      />
      <Panel
        {...small}
        plotLeft={rightL}
        plotTop={rowTops[2]}
        yMin={-4.05}
        yMax={4.05}
        yTicks={RISK_Y_TICKS}
        yMajor={RISK_Y_MAJOR}
        yPos="right"
        grey={RISK_GREY}
        red={RISK_RED}
        green={RISK_GREEN}
        cyan={RISK_CYAN}
        purple={RISK_PURPLE}
      />

      <Label text="Suicidal ideation total score" x={22} y={151} rot={-90} size={17} />
      <Label text="Suicidal ideation component" x={13} y={651} rot={-90} size={17.5} />
      <Label text="Desire to kill self" x={48} y={418} rot={-90} size={17} />
      <Label text="Intention to kill self" x={48} y={624} rot={-90} size={17} />
      <Label text="Ability to resist urge to kill self" x={49} y={831} rot={-90} size={17} />
      <Label text="Hopelessness" x={1104} y={418} rot={90} size={17} />
      <Label text="Loneliness" x={1104} y={624} rot={90} size={17} />
      <Label text="Burdensomness" x={1104} y={831} rot={90} size={17} />
      <Label text="Risk factor" x={1129} y={640} rot={90} size={17.5} />
      <Label text="Observation Number (approx 4–8 hours apart)" x={575} y={955} rot={0} size={18.5} />
    </div>
  );
}
